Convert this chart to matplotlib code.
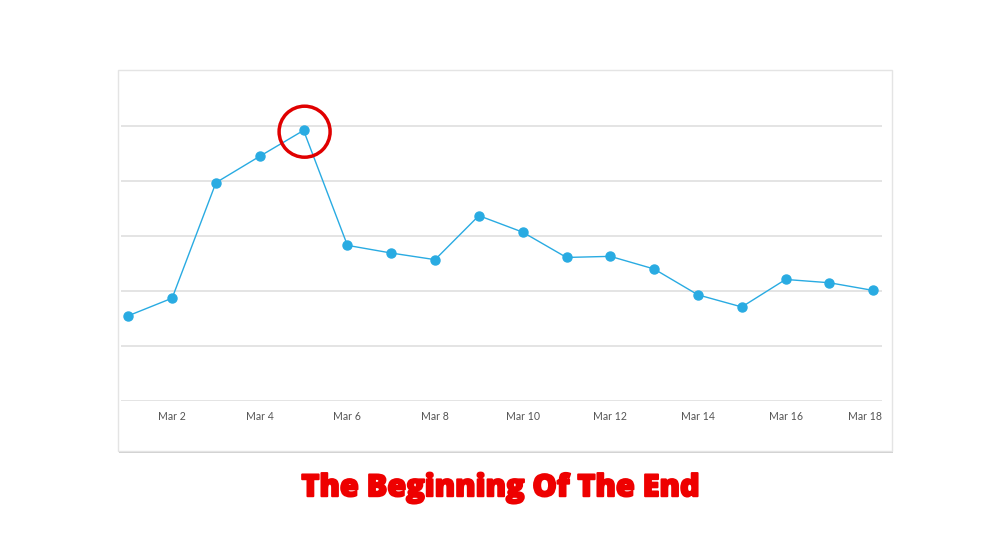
import matplotlib
matplotlib.use("Agg")
import matplotlib.pyplot as plt
from matplotlib.patches import Rectangle, Circle
from matplotlib.transforms import ScaledTranslation
import matplotlib.patheffects as pe

days = list(range(1, 19))
values = [1.55, 1.87, 3.97, 4.45, 4.92, 2.83, 2.69, 2.57, 3.37, 3.07,
          2.61, 2.63, 2.40, 1.93, 1.71, 2.21, 2.15, 2.01]
tick_days = [2, 4, 6, 8, 10, 12, 14, 16, 18]
tick_labels = ["Mar 2", "Mar 4", "Mar 6", "Mar 8", "Mar 10", "Mar 12",
               "Mar 14", "Mar 16", "Mar 18"]
grid_values = [0, 1, 2, 3, 4, 5]
title = "The Beginning Of The End"
highlight_day = 5

W, H = 1000, 533
fig = plt.figure(figsize=(W / 100, H / 100), dpi=100)
fig.patch.set_facecolor("white")

def fx(px):
    return px / W

def fy(py):
    return 1 - py / H

# card shadow and card
fig.patches.append(Rectangle((fx(118.5), fy(452.5)), fx(893.5) - fx(118.5), fy(71) - fy(452.5),
                             transform=fig.transFigure, facecolor="#d0d0d0", edgecolor="none", zorder=-2))
fig.patches.append(Rectangle((fx(117.5), fy(451)), fx(892.5) - fx(117.5), fy(70) - fy(451),
                             transform=fig.transFigure, facecolor="white", edgecolor="#e4e4e4",
                             linewidth=1.0, zorder=-1))

ax = fig.add_axes([fx(120.7), fy(401), fx(882) - fx(120.7), fy(98.5) - fy(401)])
ax.set_zorder(1)
ax.set_facecolor("none")
ax.set_xlim(0.826, 18.2)
ax.set_ylim(0, 5.5)
for g in grid_values:
    ax.axhline(g, color="#dddddd", linewidth=1.1, zorder=1)

ax.plot(days, values, color="#29abe2", linewidth=1.0, marker="o",
        markersize=6.5, markerfacecolor="#29abe2", markeredgecolor="#29abe2", zorder=3)

for s in ax.spines.values():
    s.set_visible(False)
ax.set_yticks([])
ax.set_xticks(tick_days)
ax.set_xticklabels(tick_labels, fontsize=7.6, color="#555555", family="Lato")
ax.tick_params(axis="x", length=0, pad=7.5)
for lbl in ax.get_xticklabels():
    if lbl.get_text() == "Mar 18":
        lbl.set_transform(lbl.get_transform() + ScaledTranslation(-0.085, 0, fig.dpi_scale_trans))

# highlight circle around the peak point (in display pixels)
hx, hy = ax.transData.transform((highlight_day, values[highlight_day - 1]))
circ = Circle((hx + 1, hy - 1.3), 25.5, transform=None, fill=False, edgecolor="#e00000",
              linewidth=2.5, zorder=5, clip_on=False)
ax.add_artist(circ)

fig.text(0.5, fy(488), title, ha="center", va="center", fontsize=22,
         fontweight="heavy", family=["Open Sans", "Roboto"], color="#ee0000",
         path_effects=[pe.withStroke(linewidth=1.4, foreground="#ee0000")])

fig.savefig("out.png", dpi=100, facecolor="white")
